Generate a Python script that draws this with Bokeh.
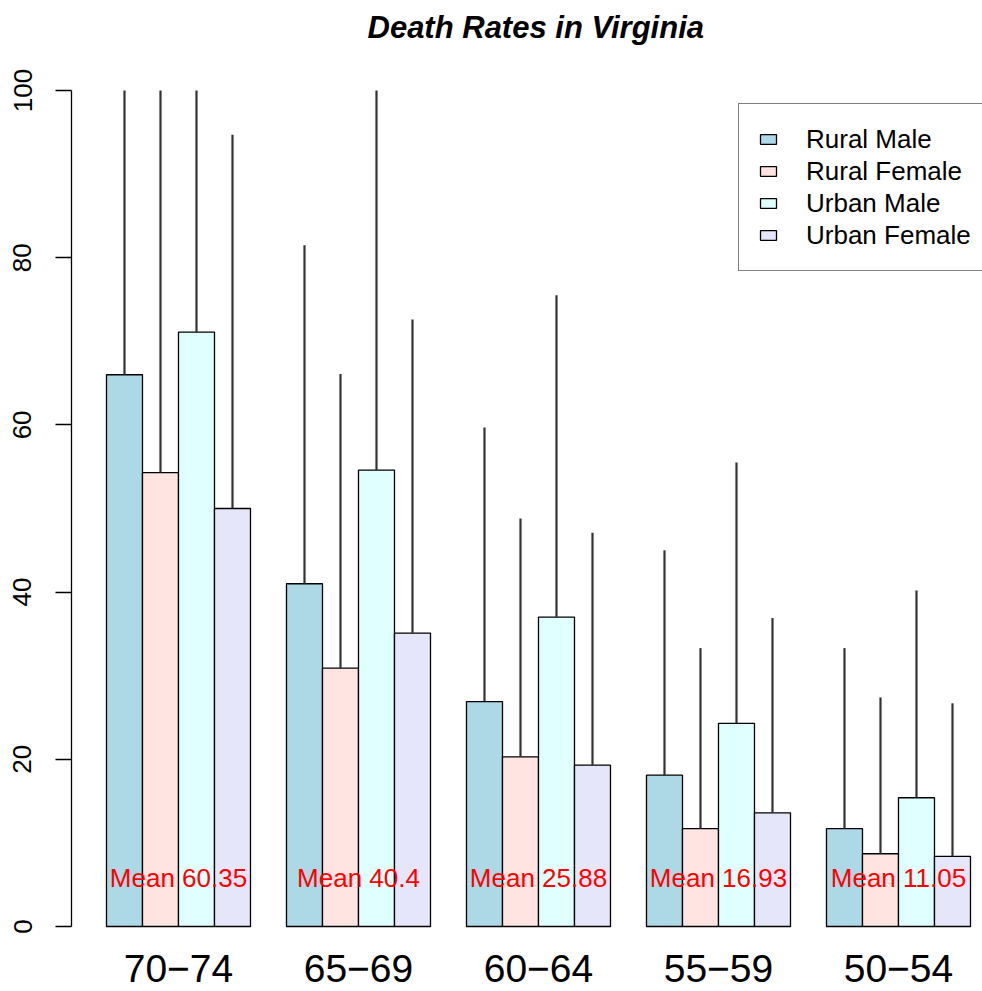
import numpy as np
from bokeh.plotting import figure
from bokeh.models import (Range1d, LinearAxis, FixedTicker, LabelSet,
                          ColumnDataSource, Legend, LegendItem)
from bokeh.core.properties import value
from bokeh.embed import file_html
from bokeh.resources import INLINE

# ---------------- data ----------------
groups = ["70\u221274", "65\u221269", "60\u221264", "55\u221259", "50\u221254"]
series = ["Rural Male", "Rural Female", "Urban Male", "Urban Female"]
rural_male = [66.0, 41.0, 26.9, 18.1, 11.7]
rural_female = [54.3, 30.9, 20.3, 11.7, 8.7]
urban_male = [71.1, 54.6, 37.0, 24.3, 15.4]
urban_female = [50.0, 35.1, 19.3, 13.6, 8.4]
# upper ends of the error bars (values above 100 are cut off by the plot)
rural_male_upper = [117.4, 81.5, 59.7, 45.0, 33.3]
rural_female_upper = [100.9, 66.1, 48.8, 33.3, 27.4]
urban_male_upper = [124.4, 101.3, 75.5, 55.5, 40.2]
urban_female_upper = [94.7, 72.6, 47.1, 36.9, 26.7]
mean_labels = ["Mean 60.35", "Mean 40.4", "Mean 25.88", "Mean 16.93", "Mean 11.05"]
y_ticks = [0, 20, 40, 60, 80, 100]

colors = ["#ADD8E6", "#FFE4E1", "#E0FFFF", "#E6E6FA"]
FONT = "Liberation Sans"

# ---------------- figure ----------------
W, H = 982, 991
LEFT, TOP = 71, 90
PX_PER_UNIT = 8.36          # vertical scale
UNIT = 36.0                 # horizontal px per bar
x0 = 0.028
y_bottom = -(H - 926) / PX_PER_UNIT   # frame reaches the page bottom; 0 sits at 926px
p = figure(width=W, height=H, output_backend="svg", toolbar_location=None,
           x_range=Range1d(x0, x0 + (W - LEFT) / UNIT),
           y_range=Range1d(y_bottom, 100),
           min_border_left=LEFT, min_border_right=0, min_border_top=TOP,
           min_border_bottom=0, x_axis_location=None, y_axis_location=None,
           title="Death Rates in Virginia\n")
p.outline_line_color = None
p.background_fill_color = "white"
p.border_fill_color = "white"
p.grid.visible = False

p.title.align = "left"
p.title.offset = 296
p.title.vertical_align = "top"
p.title.text_font = FONT
p.title.text_font_style = "bold italic"
p.title.text_font_size = "31px"
p.title.text_color = "black"
p.title.standoff = 18

values = [rural_male, rural_female, urban_male, urban_female]
uppers = [rural_male_upper, rural_female_upper, urban_male_upper, urban_female_upper]
n_groups = len(groups)

items = []
for i, (name, vals, col) in enumerate(zip(series, values, colors)):
    xs = [5 * g + 1.5 + i for g in range(n_groups)]
    src = ColumnDataSource(dict(x=xs, top=vals))
    r = p.vbar(x="x", top="top", bottom=0, width=1, source=src,
               fill_color=col, line_color="black", line_width=1.3)
    items.append(LegendItem(label=name, renderers=[r]))

for i, (vals, ups) in enumerate(zip(values, uppers)):
    xs = [5 * g + 1.5 + i for g in range(n_groups)]
    p.segment(x0=xs, y0=vals, x1=xs, y1=ups, line_color="#333333", line_width=2.2)

centers = [5 * g + 3 for g in range(n_groups)]
mean_src = ColumnDataSource(dict(x=centers, y=[5.8] * n_groups, text=mean_labels))
p.add_layout(LabelSet(x="x", y="y", text="text", source=mean_src,
                      text_color="red", text_font=value(FONT), text_font_size="26px",
                      text_align="center", text_baseline="middle"))

# group names under the bars
grp_src = ColumnDataSource(dict(x=centers, y=[-5.08] * n_groups, text=groups))
p.add_layout(LabelSet(x="x", y="y", text="text", source=grp_src,
                      text_color="black", text_font=value(FONT), text_font_size="39px",
                      text_align="center", text_baseline="middle"))

yax = LinearAxis(ticker=FixedTicker(ticks=y_ticks), bounds=(0, 100),
                 major_tick_out=16, major_tick_in=0,
                 minor_tick_line_color=None,
                 major_label_orientation="vertical",
                 major_label_text_font=FONT, major_label_text_font_size="26px",
                 major_label_standoff=24, major_label_text_color="black",
                 axis_line_color="black", axis_line_width=1.3,
                 major_tick_line_color="black", major_tick_line_width=1.3)
p.add_layout(yax, "left")

legend = Legend(items=items, location=(667, 720), margin=0,
                border_line_color="black", border_line_width=1.3,
                background_fill_color="white", background_fill_alpha=1.0,
                label_text_font=FONT, label_text_font_size="26px",
                label_text_color="black",
                glyph_width=20, glyph_height=12, label_standoff=28,
                padding=19, spacing=0, label_height=32, label_width=220)
p.add_layout(legend)

open("out.html", "w").write(file_html(p, INLINE))
